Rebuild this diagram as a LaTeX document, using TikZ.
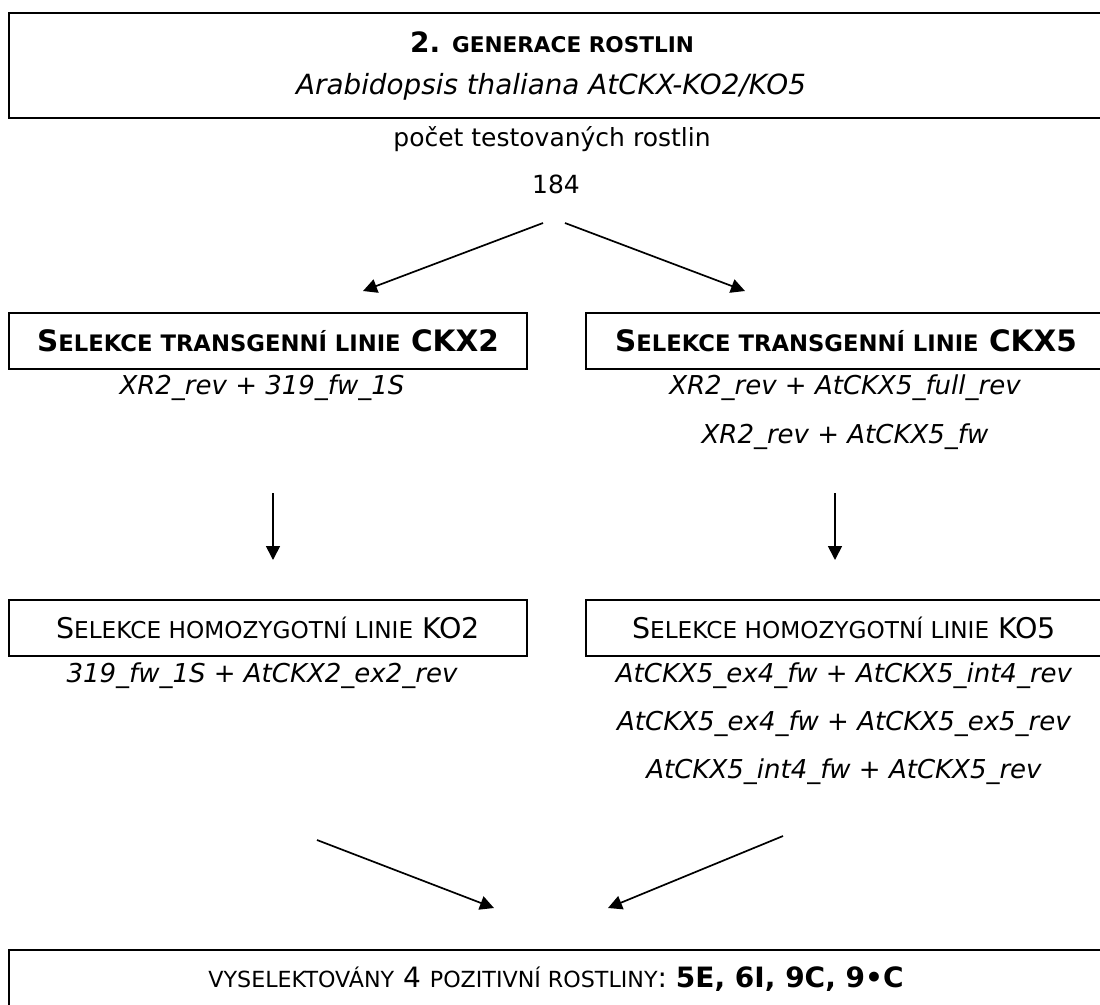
\documentclass[tikz,border=0pt]{standalone}
\usepackage{fontspec}
\setmainfont{DejaVu Sans}
\usetikzlibrary{arrows.meta}
\newcommand{\bodysz}{\fontsize{25}{30}\selectfont}
\newcommand{\itsz}{\fontsize{26}{30}\selectfont}
\newcommand{\titbig}{\fontsize{28}{32}\selectfont}
\newcommand{\titsm}{\fontsize{21.6}{26}\selectfont}
\newcommand{\spbig}{\fontsize{27.8}{32}\selectfont}
\newcommand{\hbbig}{\fontsize{29.5}{34}\selectfont}
\newcommand{\hbsm}{\fontsize{22.7}{26}\selectfont}
\newcommand{\hrbig}{\fontsize{28.5}{34}\selectfont}
\newcommand{\hrsm}{\fontsize{23.2}{28}\selectfont}
\newcommand{\btbig}{\fontsize{28}{34}\selectfont}
\newcommand{\btsm}{\fontsize{22.2}{28}\selectfont}
\tikzset{
  frame/.style={draw=black, line width=2.4pt, fill=none, inner sep=0pt},
  txt/.style={inner sep=0pt, anchor=center, font=\bodysz},
  ital/.style={inner sep=0pt, anchor=center, font=\itsz\itshape},
  arr/.style={line width=1.7pt, -{Triangle[length=14pt,width=14pt]}},
}
\begin{document}
\begin{tikzpicture}[x=1pt,y=-1pt]
\useasboundingbox (0,0) rectangle (1100,1004);
% top box
\node[frame, minimum width=1096pt, minimum height=105pt] (topbox) at (557,65.5) {};
\node[txt] (title) at (552,42) {\titbig\textbf{2.} {\titsm\textbf{GENERACE ROSTLIN}}};
\node[txt] (species) at (551,87) {\spbig\itshape Arabidopsis thaliana AtCKX-KO2/KO5};
\node[txt] (pocet) at (552,139) {počet testovaných rostlin};
\node[txt] (n184) at (556,184) {184};
\coordinate (a1s) at (543,223);
\coordinate (a1e) at (363,291);
\coordinate (a2s) at (565,223);
\coordinate (a2e) at (745,291);
\draw[arr] (a1s) -- (a1e);
\draw[arr] (a2s) -- (a2e);
% row 1
\node[frame, minimum width=518pt, minimum height=56pt] (b1l) at (268,341) {};
\node[txt] (t1l) at (b1l.center) {\hbbig\textbf{S{\hbsm ELEKCE TRANSGENNÍ LINIE} CKX2}};
\node[frame, minimum width=520pt, minimum height=56pt] (b1r) at (846,341) {};
\node[txt] (t1r) at (846,341) {\hbbig\textbf{S{\hbsm ELEKCE TRANSGENNÍ LINIE} CKX5}};
\node[ital] (p1l) at (262,388) {XR2\_rev + 319\_fw\_1S};
\node[ital] (p1r) at (845,388) {XR2\_rev + AtCKX5\_full\_rev};
\node[ital] (p2r) at (845,437) {XR2\_rev + AtCKX5\_fw};
\coordinate (v1s) at (273,493);
\coordinate (v1e) at (273,560);
\coordinate (v2s) at (835,493);
\coordinate (v2e) at (835,560);
\draw[arr] (v1s) -- (v1e);
\draw[arr] (v2s) -- (v2e);
% row 2
\node[frame, minimum width=518pt, minimum height=56pt] (b2l) at (268,628) {};
\node[txt] (t2l) at (b2l.center) {\hrbig S{\hrsm ELEKCE HOMOZYGOTNÍ LINIE} KO2};
\node[frame, minimum width=520pt, minimum height=56pt] (b2r) at (846,628) {};
\node[txt] (t2r) at (844,628) {\hrbig S{\hrsm ELEKCE HOMOZYGOTNÍ LINIE} KO5};
\node[ital] (q1l) at (262,676) {319\_fw\_1S + AtCKX2\_ex2\_rev};
\node[ital] (q1r) at (844,676) {AtCKX5\_ex4\_fw + AtCKX5\_int4\_rev};
\node[ital] (q2r) at (844,724) {AtCKX5\_ex4\_fw + AtCKX5\_ex5\_rev};
\node[ital] (q3r) at (844,772) {AtCKX5\_int4\_fw + AtCKX5\_rev};
\coordinate (c1s) at (317,840);
\coordinate (c1e) at (494,908);
\coordinate (c2s) at (783,836);
\coordinate (c2e) at (608,908);
\draw[arr] (c1s) -- (c1e);
\draw[arr] (c2s) -- (c2e);
% bottom box
\node[frame, minimum width=1096pt, minimum height=80pt] (botbox) at (557,990) {};
\node[txt] (result) at (556,979) {\btbig{\btsm VYSELEKTOVÁNY} 4 {\btsm POZITIVNÍ ROSTLINY}: \textbf{5E, 6I, 9C, 9•C}};
\end{tikzpicture}
\end{document}
